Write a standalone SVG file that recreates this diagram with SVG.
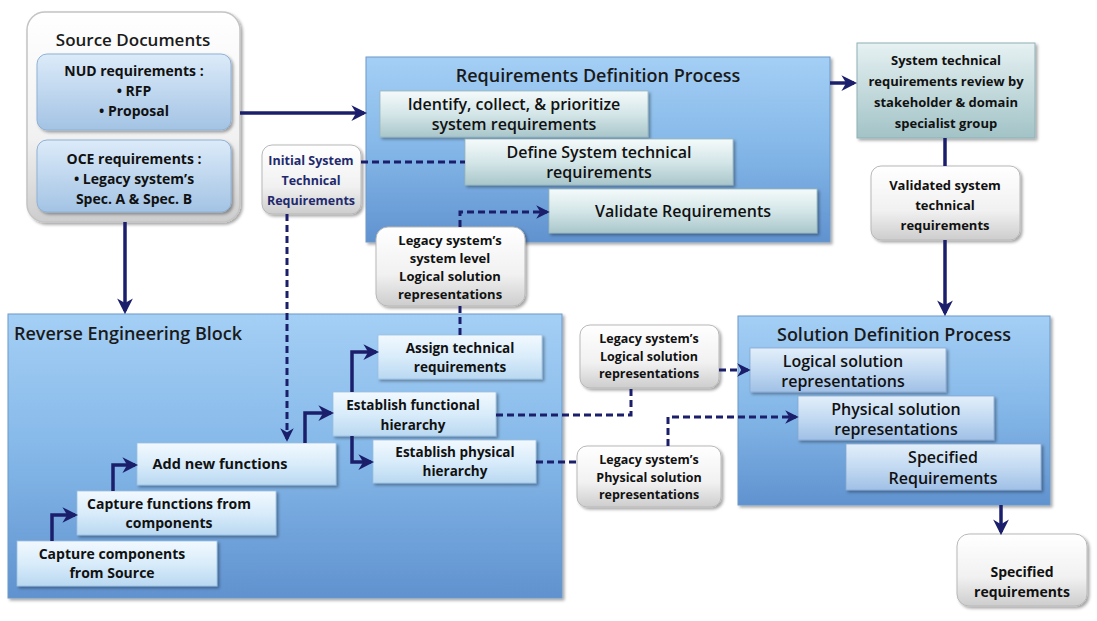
<svg xmlns="http://www.w3.org/2000/svg" width="1097" height="621" viewBox="0 0 1097 621">
  <defs>
    <linearGradient id="gBig" x1="0" y1="0" x2="0" y2="1">
      <stop offset="0" stop-color="#a4cff5"/>
      <stop offset="0.5" stop-color="#84b7e8"/>
      <stop offset="1" stop-color="#6092cf"/>
    </linearGradient>
    <linearGradient id="gStep" x1="0" y1="0" x2="0" y2="1">
      <stop offset="0" stop-color="#f2f9fe"/>
      <stop offset="0.5" stop-color="#d9ecfa"/>
      <stop offset="1" stop-color="#b9d8f1"/>
    </linearGradient>
    <linearGradient id="gSol" x1="0" y1="0" x2="0" y2="1">
      <stop offset="0" stop-color="#e3effa"/>
      <stop offset="0.5" stop-color="#c3daf2"/>
      <stop offset="1" stop-color="#a0c0e6"/>
    </linearGradient>
    <linearGradient id="gReq" x1="0" y1="0" x2="0" y2="1">
      <stop offset="0" stop-color="#f5fafa"/>
      <stop offset="0.5" stop-color="#d4e6e8"/>
      <stop offset="1" stop-color="#a9c6ca"/>
    </linearGradient>
    <linearGradient id="gReview" x1="0" y1="0" x2="0" y2="1">
      <stop offset="0" stop-color="#e6f1f2"/>
      <stop offset="1" stop-color="#a2c3c7"/>
    </linearGradient>
    <linearGradient id="gLabel" x1="0" y1="0" x2="0" y2="1">
      <stop offset="0" stop-color="#ffffff"/>
      <stop offset="0.6" stop-color="#f1f1f1"/>
      <stop offset="1" stop-color="#cdcdcd"/>
    </linearGradient>
    <linearGradient id="gDoc" x1="0" y1="0" x2="0" y2="1">
      <stop offset="0" stop-color="#dcebf9"/>
      <stop offset="1" stop-color="#a3c3e4"/>
    </linearGradient>
    <filter id="shadow" x="-10%" y="-10%" width="130%" height="130%">
      <feDropShadow dx="2" dy="2" stdDeviation="1.5" flood-color="#000" flood-opacity="0.35"/>
    </filter>
    <marker id="arrow" viewBox="0 0 10 10" refX="8" refY="5" markerWidth="4.5" markerHeight="4.5" orient="auto" markerUnits="strokeWidth">
      <path d="M0,0 L10,5 L0,10 L3,5 z" fill="#1b1f6b"/>
    </marker>
  </defs>
  <style>
    text { font-family: "Open Sans", "Liberation Sans", sans-serif; fill: #111; text-anchor: middle; }
    .title { font-size: 18px; font-weight: 600; fill: #1a1a1a; }
    .b { font-weight: 700; }
    .big { fill: url(#gBig); stroke: #6d99c9; stroke-width: 1; filter: url(#shadow); }
    .step { fill: url(#gStep); stroke: #9cc0e0; stroke-width: 0.8; filter: url(#shadow); }
    .sol { fill: url(#gSol); stroke: #87a9d3; stroke-width: 0.8; filter: url(#shadow); }
    .req { fill: url(#gReq); stroke: #9ab7bb; stroke-width: 0.8; filter: url(#shadow); }
    .label { fill: url(#gLabel); stroke: #b8b8b8; stroke-width: 1; filter: url(#shadow); }
    .solid { fill: none; stroke: #1b1f6b; stroke-width: 3.5; }
    .dash { fill: none; stroke: #1b1f6b; stroke-width: 3; stroke-dasharray: 7 4; }
  </style>

  <!-- Source documents -->
  <g id="source-documents">
    <rect x="27" y="12" width="213" height="210" rx="18" fill="url(#gLabel)" stroke="#c4c4c4" stroke-width="1.5" filter="url(#shadow)"/>
    <text x="133" y="46" class="title" style="font-size:17px">Source Documents</text>
  </g>
  <g id="nud-requirements">
    <rect x="37" y="54" width="194" height="76" rx="10" fill="url(#gDoc)" stroke="#8fb1d6" filter="url(#shadow)"/>
    <text x="134" y="76" class="b" font-size="14">NUD requirements :</text>
    <text x="134" y="96" class="b" font-size="14">• RFP</text>
    <text x="134" y="116" class="b" font-size="14">• Proposal</text>
  </g>
  <g id="oce-requirements">
    <rect x="37" y="140" width="194" height="72" rx="10" fill="url(#gDoc)" stroke="#8fb1d6" filter="url(#shadow)"/>
    <text x="134" y="164" class="b" font-size="14">OCE requirements :</text>
    <text x="134" y="184" class="b" font-size="14">• Legacy system’s</text>
    <text x="134" y="204" class="b" font-size="14">Spec. A &amp; Spec. B</text>
  </g>

  <!-- Requirements definition process -->
  <g id="requirements-definition">
    <rect x="366" y="57" width="464" height="185" class="big"/>
    <text x="598" y="82" class="title">Requirements Definition Process</text>
  </g>
  <g id="identify">
    <rect x="380" y="91" width="268" height="46" class="req"/>
    <text x="514" y="110" font-size="16" font-weight="600">Identify, collect, &amp; prioritize</text>
    <text x="514" y="130" font-size="16" font-weight="600">system requirements</text>
  </g>
  <g id="define">
    <rect x="465" y="139" width="268" height="46" class="req"/>
    <text x="599" y="158" font-size="16" font-weight="600">Define System technical</text>
    <text x="599" y="178" font-size="16" font-weight="600">requirements</text>
  </g>
  <g id="validate">
    <rect x="549" y="189" width="268" height="44" class="req"/>
    <text x="683" y="217" font-size="16" font-weight="600">Validate Requirements</text>
  </g>

  <!-- Review and validated output -->
  <g id="review">
    <rect x="857" y="43" width="178" height="95" fill="url(#gReview)" stroke="#8fb0b4" filter="url(#shadow)"/>
    <text x="946" y="65" class="b" font-size="13">System technical</text>
    <text x="946" y="86" class="b" font-size="13">requirements review by</text>
    <text x="946" y="107" class="b" font-size="13">stakeholder &amp; domain</text>
    <text x="946" y="128" class="b" font-size="13">specialist group</text>
  </g>
  <g id="validated">
    <rect x="871" y="166" width="149" height="74" rx="10" class="label"/>
    <text x="945" y="190" class="b" font-size="13">Validated system</text>
    <text x="945" y="210" class="b" font-size="13">technical</text>
    <text x="945" y="230" class="b" font-size="13">requirements</text>
  </g>

  <!-- Solution definition process -->
  <g id="solution-definition">
    <rect x="738" y="316" width="312" height="189" class="big"/>
    <text x="894" y="341" class="title">Solution Definition Process</text>
  </g>
  <g id="logical-solution">
    <rect x="750" y="348" width="196" height="44" class="sol"/>
    <text x="843" y="367" font-size="16" font-weight="600">Logical solution</text>
    <text x="843" y="387" font-size="16" font-weight="600">representations</text>
  </g>
  <g id="physical-solution">
    <rect x="798" y="396" width="196" height="44" class="sol"/>
    <text x="896" y="415" font-size="16" font-weight="600">Physical solution</text>
    <text x="896" y="435" font-size="16" font-weight="600">representations</text>
  </g>
  <g id="specified-in">
    <rect x="846" y="444" width="195" height="46" class="sol"/>
    <text x="943" y="463" font-size="16" font-weight="600">Specified</text>
    <text x="943" y="484" font-size="16" font-weight="600">Requirements</text>
  </g>
  <g id="specified-out">
    <rect x="957" y="534" width="130" height="72" rx="12" class="label"/>
    <text x="1022" y="577" class="b" font-size="14">Specified</text>
    <text x="1022" y="597" class="b" font-size="14">requirements</text>
  </g>

  <!-- Reverse engineering block -->
  <g id="reverse-engineering">
    <rect x="8" y="314" width="554" height="284" class="big"/>
    <text x="14" y="340" class="title" style="text-anchor:start">Reverse Engineering Block</text>
  </g>
  <g id="capture-components">
    <rect x="17" y="541" width="200" height="45" class="step"/>
    <text x="112" y="559" class="b" font-size="14">Capture components</text>
    <text x="112" y="578" class="b" font-size="14">from Source</text>
  </g>
  <g id="capture-functions">
    <rect x="77" y="491" width="199" height="44" class="step"/>
    <text x="169" y="509" class="b" font-size="14">Capture functions from</text>
    <text x="169" y="528" class="b" font-size="14">components</text>
  </g>
  <g id="add-functions">
    <rect x="137" y="443" width="199" height="42" class="step"/>
    <text x="220" y="469" class="b" font-size="14.5">Add new functions</text>
  </g>
  <g id="functional-hierarchy">
    <rect x="333" y="392" width="163" height="44" class="step"/>
    <text x="413" y="410" class="b" font-size="13.5">Establish functional</text>
    <text x="413" y="430" class="b" font-size="13.5">hierarchy</text>
  </g>
  <g id="physical-hierarchy">
    <rect x="373" y="440" width="163" height="43" class="step"/>
    <text x="455" y="457" class="b" font-size="13.5">Establish physical</text>
    <text x="455" y="476" class="b" font-size="13.5">hierarchy</text>
  </g>
  <g id="assign-technical">
    <rect x="378" y="335" width="164" height="44" class="step"/>
    <text x="460" y="353" class="b" font-size="13.5">Assign technical</text>
    <text x="460" y="372" class="b" font-size="13.5">requirements</text>
  </g>

  <!-- Input labels -->
  <g id="initial-requirements">
    <rect x="262" y="145" width="99" height="69" rx="10" class="label"/>
    <text x="311" y="165" class="b" font-size="12.5" style="fill:#1f2a6e">Initial System</text>
    <text x="311" y="185" class="b" font-size="12.5" style="fill:#1f2a6e">Technical</text>
    <text x="311" y="205" class="b" font-size="12.5" style="fill:#1f2a6e">Requirements</text>
  </g>
  <g id="legacy-system-level">
    <rect x="376" y="227" width="149" height="79" rx="12" class="label"/>
    <text x="450" y="245" class="b" font-size="13">Legacy system’s</text>
    <text x="450" y="263" class="b" font-size="13">system level</text>
    <text x="450" y="281" class="b" font-size="13">Logical solution</text>
    <text x="450" y="299" class="b" font-size="13">representations</text>
  </g>
  <g id="legacy-logical">
    <rect x="580" y="325" width="139" height="63" rx="10" class="label"/>
    <text x="649" y="343" class="b" font-size="12.5">Legacy system’s</text>
    <text x="649" y="361" class="b" font-size="12.5">Logical solution</text>
    <text x="649" y="378" class="b" font-size="12.5">representations</text>
  </g>
  <g id="legacy-physical">
    <rect x="577" y="446" width="144" height="61" rx="10" class="label"/>
    <text x="649" y="464" class="b" font-size="12.5">Legacy system’s</text>
    <text x="649" y="482" class="b" font-size="12.5">Physical solution</text>
    <text x="649" y="499" class="b" font-size="12.5">representations</text>
  </g>

  <!-- Connectors -->
  <g id="connectors">
    <path d="M240,113 H364" class="solid" marker-end="url(#arrow)"/>
    <path d="M125,222 V311" class="solid" marker-end="url(#arrow)"/>
    <path d="M830,83 H854" class="solid" marker-end="url(#arrow)"/>
    <path d="M945,138 V166" class="solid"/>
    <path d="M945,240 V313" class="solid" marker-end="url(#arrow)"/>
    <path d="M1001,505 V532" class="solid" marker-end="url(#arrow)"/>

    <path d="M52,541 V515 H75" class="solid" marker-end="url(#arrow)"/>
    <path d="M113,491 V465 H135" class="solid" marker-end="url(#arrow)"/>
    <path d="M305,443 V413 H331" class="solid" marker-end="url(#arrow)"/>
    <path d="M352,392 V352 H376" class="solid" marker-end="url(#arrow)"/>
    <path d="M352,436 V462 H371" class="solid" marker-end="url(#arrow)"/>

    <path d="M287,214 V439" class="dash" marker-end="url(#arrow)"/>
    <path d="M361,162 H465" class="dash"/>
    <path d="M460,227 V212 H547" class="dash" marker-end="url(#arrow)"/>
    <path d="M460,306 V335" class="dash"/>
    <path d="M719,370 H748" class="dash" marker-end="url(#arrow)"/>
    <path d="M496,415 H631 V388" class="dash"/>
    <path d="M536,462 H577" class="dash"/>
    <path d="M668,446 V417 H796" class="dash" marker-end="url(#arrow)"/>
  </g>
</svg>
